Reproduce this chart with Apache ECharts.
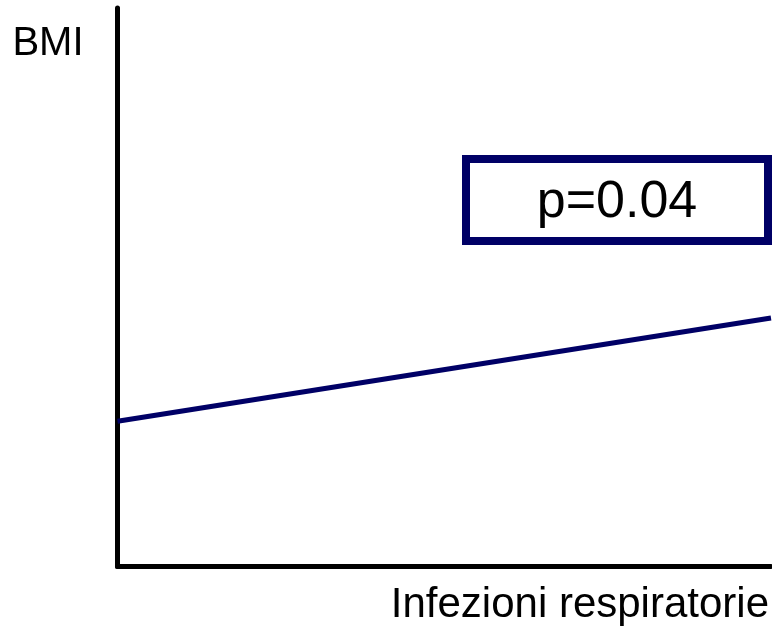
<!DOCTYPE html>
<html>
<head>
<meta charset="utf-8">
<title>BMI / Infezioni respiratorie</title>
<script src="https://cdn.jsdelivr.net/npm/echarts@6/dist/echarts.min.js"></script>
<style>
  html, body { margin: 0; padding: 0; background: #fff; }
  #chart { width: 772px; height: 632px; }
</style>
</head>
<body>
<div id="chart"></div>
<script>
  // trend line, only the two end points are drawn in the original
  var xValues = [0, 1]
  var bmiTrend = [0.26, 0.445]
  var xName = 'Infezioni respiratorie'
  var yName = 'BMI'
  var pLabel = 'p=0.04'

  var navy = '#000066'
  var font = '"Liberation Sans", Arial, sans-serif'

  var chart = echarts.init(document.getElementById('chart'), null, { renderer: 'canvas' })

  var option = {
    animation: false,
    backgroundColor: '#fff',
    grid: {
      left: 117.5,
      right: 0,
      top: 8,
      bottom: 65.5
    },
    xAxis: {
      type: 'value',
      min: 0,
      max: 1,
      name: xName,
      nameLocation: 'end',
      nameGap: -2,
      nameTextStyle: {
        fontFamily: font,
        fontSize: 42,
        color: '#000',
        align: 'right',
        verticalAlign: 'top',
        padding: [18, 0, 0, 0]
      },
      axisLine: { show: true, lineStyle: { color: '#000', width: 5 } },
      axisTick: { show: false },
      axisLabel: { show: false },
      splitLine: { show: false }
    },
    yAxis: {
      type: 'value',
      min: 0,
      max: 1,
      name: yName,
      nameLocation: 'end',
      nameGap: -35.5,
      nameTextStyle: {
        fontFamily: font,
        fontSize: 40,
        color: '#000',
        align: 'right',
        verticalAlign: 'middle',
        padding: [0, 34, 0, 0]
      },
      axisLine: { show: true, lineStyle: { color: '#000', width: 5 } },
      axisTick: { show: false },
      axisLabel: { show: false },
      splitLine: { show: false }
    },
    series: [{
      type: 'line',
      data: xValues.map(function (x, i) { return [x, bmiTrend[i]] }),
      symbol: 'none',
      lineStyle: { color: navy, width: 5 }
    }],
    graphic: [{
      type: 'group',
      children: [{
        type: 'rect',
        shape: { x: 466, y: 159, width: 302, height: 82 },
        style: { fill: '#fff', stroke: navy, lineWidth: 8 }
      }, {
        type: 'text',
        x: 617,
        y: 203,
        style: {
          text: pLabel,
          fontFamily: font,
          fontSize: 52,
          fill: '#000',
          align: 'center',
          verticalAlign: 'middle'
        }
      }]
    }]
  }

  chart.setOption(option)
</script>
</body>
</html>
